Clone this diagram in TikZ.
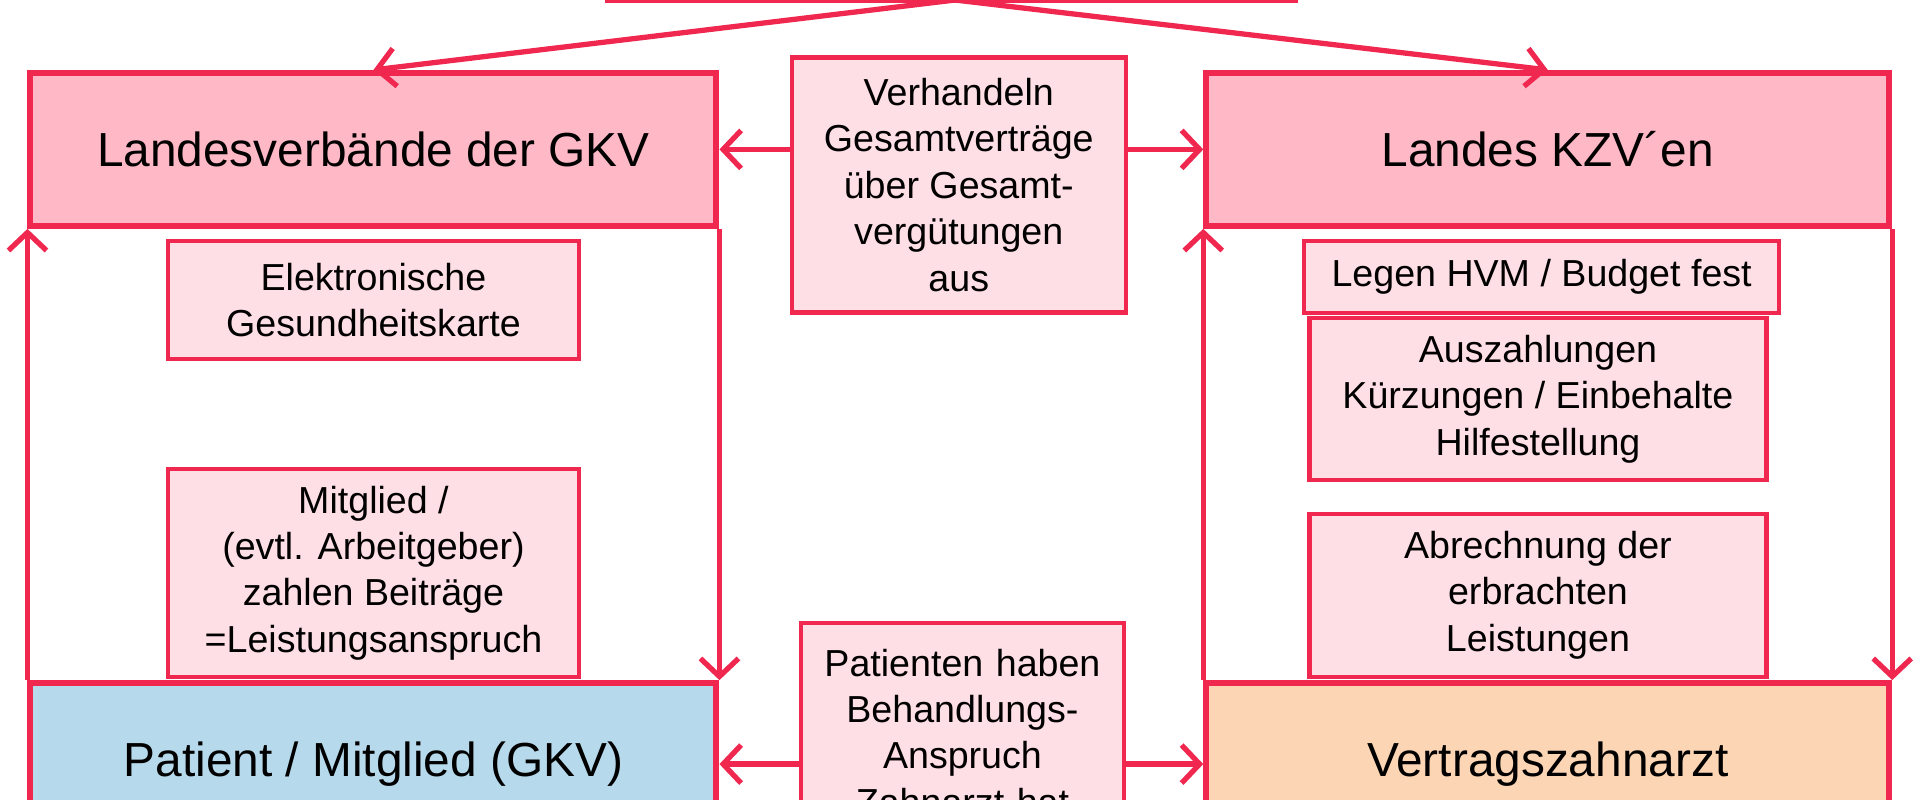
\documentclass[tikz,border=0pt]{standalone}
\usepackage{fontspec}
\setmainfont{Liberation Sans}
\usetikzlibrary{arrows.meta}
\definecolor{rotrand}{RGB}{240,40,80}
\definecolor{rosa}{RGB}{255,184,198}
\definecolor{hellrosa}{RGB}{255,223,230}
\definecolor{hellblau}{RGB}{182,218,235}
\definecolor{pfirsich}{RGB}{251,213,180}
\tikzset{
	grossbox/.style={draw=rotrand, line width=1.7pt, minimum width=6.86cm, minimum height=1.53cm,
		font=\fontsize{13.6}{16}\selectfont},
	kleinbox/.style={draw=rotrand, line width=1.2pt, fill=hellrosa, align=center,
		font=\fontsize{10.7}{13.2}\selectfont},
	pfeil/.style={draw=rotrand, line width=1.5pt, -{Straight Barb[length=1.8mm,width=3.8mm]}}
}
\begin{document}
	\begin{tikzpicture}[x=0.12245mm, y=-0.12245mm]
		\useasboundingbox (0,0) rectangle (1568,653);
		\clip (0,0) rectangle (1568,653);
		\fill[white] (0,0) rectangle (1568,653);
		% obere Ebene
		\node[grossbox, fill=rosa, minimum width=6.87cm, minimum height=0.8cm] (oben) at (777,-33) {};
		\coordinate (obenmitte) at (780,0);
		\node[grossbox, fill=rosa] (gkv) at (305,122) {Landesverbände der GKV};
		\node[grossbox, fill=rosa, minimum width=6.83cm] (kzv) at (1264,122) {Landes KZV´en};
		\node[kleinbox, minimum width=3.34cm, minimum height=2.55cm] (verh) at (783,151)
			{Verhandeln\\Gesamtverträge\\über Gesamt-\\vergütungen\\aus};
		% links
		\node[kleinbox, minimum width=4.11cm, minimum height=1.18cm] (egk) at (305,245)
			{Elektronische\\Gesundheitskarte};
		\node[kleinbox, minimum width=4.11cm, minimum height=2.08cm] (mitgl) at (305,468)
			{Mitglied /\\(evtl. Arbeitgeber)\\zahlen Beiträge\\=Leistungsanspruch};
		% rechts
		\node[kleinbox, minimum width=4.75cm, minimum height=0.72cm] (hvm) at (1259,226)
			{Legen HVM / Budget fest};
		\node[kleinbox, minimum width=4.57cm, minimum height=1.62cm] (ausz) at (1256,326)
			{Auszahlungen\\Kürzungen / Einbehalte\\Hilfestellung};
		\node[kleinbox, minimum width=4.57cm, minimum height=1.63cm] (abr) at (1256,486)
			{Abrechnung der\\erbrachten\\Leistungen};
		% untere Ebene
		\node[grossbox, fill=hellblau, minimum height=1.62cm] (pat) at (305,624) {Patient / Mitglied (GKV)};
		\node[grossbox, fill=pfirsich, minimum width=6.83cm, minimum height=1.62cm] (vza) at (1264,624) {Vertragszahnarzt};
		\node[kleinbox, text width=3.0cm, inner ysep=2.6mm, anchor=north] (beh) at (786,507)
			{Patienten haben\\Behandlungs-\\Anspruch\\Zahnarzt hat};
		% Pfeile
		\draw[pfeil] (obenmitte) -- (gkv.north);
		\draw[pfeil] (obenmitte) -- (kzv.north);
		\draw[pfeil] (verh.west |- gkv.east) -- (gkv.east);
		\draw[pfeil] (verh.east |- kzv.west) -- (kzv.west);
		\draw[pfeil] (beh.west |- pat.east) -- (pat.east);
		\draw[pfeil] (beh.east |- vza.west) -- (vza.west);
		\draw[pfeil] (pat.north west) -- (gkv.south west);
		\draw[pfeil] (gkv.south east) -- (pat.north east);
		\draw[pfeil] (vza.north west) -- (kzv.south west);
		\draw[pfeil] (kzv.south east) -- (vza.north east);
	\end{tikzpicture}
\end{document}
